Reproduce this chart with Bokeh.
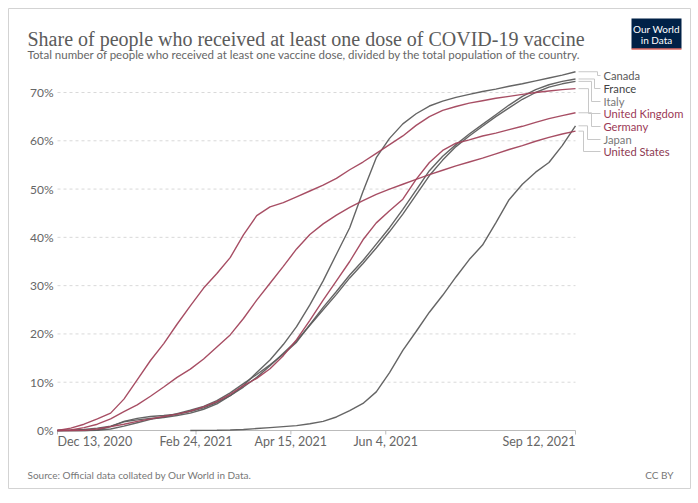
import numpy as np
import pandas as pd
from bokeh.plotting import figure
from bokeh.models import Range1d, ColumnDataSource
from bokeh.core.properties import value
from bokeh.embed import file_html
from bokeh.resources import INLINE

# ---------------- data ----------------
dates = pd.date_range("2020-12-13", "2021-09-12", freq="7D")

canada = [0.0, 0.05, 0.2, 0.5, 0.9, 1.8, 2.2, 2.5, 2.7, 3.1,
          3.6, 4.4, 5.5, 7.2, 9.3, 12.0, 14.6, 17.8, 21.5, 26.0,
          31.0, 36.5, 42.0, 49.5, 56.5, 60.5, 63.5, 65.6, 67.2, 68.2,
          69.0, 69.6, 70.2, 70.7, 71.3, 71.8, 72.4, 73.0, 73.6, 74.3]
france = [0.0, 0.0, 0.0, 0.05, 0.3, 0.9, 1.6, 2.3, 2.8, 3.5,
          4.2, 5.0, 6.2, 7.8, 9.7, 11.6, 13.6, 15.8, 18.3, 21.9,
          25.5, 28.8, 32.2, 35.2, 38.6, 42.0, 45.8, 49.8, 53.8, 56.8,
          59.2, 61.4, 63.4, 65.4, 67.4, 69.2, 70.6, 71.6, 72.3, 72.8]
italy = [0.0, 0.0, 0.0, 0.1, 0.8, 1.9, 2.5, 2.9, 3.1, 3.4,
         3.9, 4.7, 5.8, 7.2, 9.0, 11.0, 13.4, 16.0, 18.6, 21.8,
         25.0, 28.2, 31.6, 34.6, 37.8, 41.2, 44.8, 48.8, 52.8, 56.0,
         58.8, 61.0, 63.0, 65.0, 66.8, 68.6, 70.0, 71.1, 71.8, 72.3]
united_kingdom = [0.0, 0.5, 1.3, 2.4, 3.6, 6.5, 10.5, 14.5, 18.0, 22.0,
                  25.8, 29.5, 32.5, 35.8, 40.5, 44.5, 46.3, 47.2, 48.4, 49.6,
                  50.8, 52.2, 54.0, 55.6, 57.4, 59.2, 61.0, 63.2, 65.0, 66.3,
                  67.1, 67.8, 68.3, 68.8, 69.2, 69.6, 70.0, 70.3, 70.6, 70.8]
germany = [0.0, 0.0, 0.05, 0.3, 0.8, 1.3, 1.9, 2.4, 2.9, 3.4,
           4.0, 4.9, 6.0, 7.5, 9.3, 10.8, 12.8, 15.5, 18.8, 22.8,
           27.0, 31.0, 35.0, 39.5, 43.0, 45.5, 47.9, 52.0, 55.5, 58.0,
           59.5, 60.2, 61.0, 61.6, 62.3, 63.0, 63.8, 64.6, 65.2, 65.8]
japan = [None] * 10 + [0.0, 0.02, 0.05, 0.1, 0.2, 0.4, 0.6, 0.8, 1.0, 1.4,
                       1.9, 2.8, 4.1, 5.6, 8.0, 12.0, 16.6, 20.5, 24.5, 28.0,
                       31.8, 35.4, 38.4, 43.0, 47.8, 51.0, 53.5, 55.5, 59.0, 63.1]
united_states = [0.0, 0.1, 0.6, 1.3, 2.4, 3.9, 5.3, 7.1, 9.0, 11.0,
                 12.7, 14.8, 17.3, 19.8, 23.2, 27.0, 30.5, 34.0, 37.6, 40.6,
                 42.8, 44.6, 46.2, 47.6, 48.9, 50.0, 51.0, 52.0, 53.0, 53.9,
                 54.8, 55.6, 56.4, 57.3, 58.2, 59.0, 59.9, 60.7, 61.4, 62.0]

countries = ["Canada", "France", "Italy", "United Kingdom", "Germany", "Japan", "United States"]
series = [canada, france, italy, united_kingdom, germany, japan, united_states]

y_ticks = [0, 10, 20, 30, 40, 50, 60, 70]
y_tick_labels = ["0%", "10%", "20%", "30%", "40%", "50%", "60%", "70%"]
x_tick_dates = ["2020-12-13", "2021-02-24", "2021-04-15", "2021-06-04", "2021-09-12"]
x_tick_labels = ["Dec 13, 2020", "Feb 24, 2021", "Apr 15, 2021", "Jun 4, 2021", "Sep 12, 2021"]

TITLE = "Share of people who received at least one dose of COVID-19 vaccine"
SUBTITLE = ("Total number of people who received at least one vaccine dose, "
            "divided by the total population of the country.")
SOURCE = "Source: Official data collated by Our World in Data."
LICENSE = "CC BY"
LOGO_LINES = ["Our World", "in Data"]

# ---------------- styling / layout (canvas pixels) ----------------
GRAY = "#5d5d5d"
RED = "#a2445c"
line_colors = [GRAY, GRAY, GRAY, RED, RED, GRAY, RED]
label_colors = ["#5a5a5a", "#444444", "#777777", "#9c3a57", "#9c3a57", "#777777", "#8e3a52"]
FONT = value("Lato")

W, H = 698, 503
PLOT_L, PLOT_R, ZERO_Y, Y70 = 57, 575, 430, 92   # canvas px of data area

x_start = dates[0].value / 1e6
x_end = dates[-1].value / 1e6
ms_per_px = (x_end - x_start) / (PLOT_R - PLOT_L)
px_per_pct = (ZERO_Y - Y70) / 70.0


def xpx(cx):
    return x_start + (cx - PLOT_L) * ms_per_px


def ypx(cy):
    return (ZERO_Y - cy) / px_per_pct


p = figure(width=W, height=H, x_range=Range1d(xpx(0), xpx(W)), y_range=Range1d(ypx(H), ypx(0)),
           x_axis_location=None, y_axis_location=None, output_backend="svg",
           toolbar_location=None, min_border=0, title=None)
p.outline_line_color = None
p.grid.visible = False
p.background_fill_color = "white"
p.border_fill_color = "white"

# card
p.quad(left=[xpx(8)], right=[xpx(690)], top=[ypx(8)], bottom=[ypx(488)],
       fill_color="white", line_color="#d3d3d3", line_width=1)

# grid lines
p.segment(x0=[x_start] * 7, x1=[x_end] * 7, y0=y_ticks[1:], y1=y_ticks[1:],
          line_color="#d9d9d9", line_width=1, line_dash="3 3")
# x axis line and ticks
tick_ms = [pd.Timestamp(d).value / 1e6 for d in x_tick_dates]
p.segment(x0=[x_start], x1=[x_end], y0=[0], y1=[0], line_color="#bbbbbb", line_width=1)
p.segment(x0=tick_ms, x1=tick_ms, y0=[0] * 5, y1=[ypx(ZERO_Y + 4)] * 5,
          line_color="#bbbbbb", line_width=1)

# y tick labels
p.text(x=[xpx(53)] * len(y_ticks), y=y_ticks, text=y_tick_labels, text_align="right",
       text_baseline="middle", text_font=FONT, text_font_size="12px", text_color="#666666")
# x tick labels
aligns = ["left", "center", "center", "center", "right"]
p.text(x=tick_ms, y=[ypx(441)] * 5, text=x_tick_labels, text_align=aligns,
       text_baseline="middle", text_font=FONT, text_font_size="12.5px", text_color="#666666")

# country lines
for name, vals, col in zip(countries, series, line_colors):
    arr = np.array([np.nan if v is None else v for v in vals], dtype=float)
    src = ColumnDataSource(dict(x=dates, y=arr))
    p.line("x", "y", source=src, line_color=col, line_width=1.4, line_alpha=0.95)

# legend labels with connectors
label_cy = [75, 88, 101, 113, 126, 139, 151]
vert_cx = [597, 594, 591, 588, 591, 587, 583]
x0s, y0s, x1s, y1s = [], [], [], []
for vals, ly, vx in zip(series, label_cy, vert_cx):
    yend = vals[-1]
    ylab = ypx(ly)
    for a, b, c, d in [(xpx(PLOT_R + 3), yend, xpx(vx), yend), (xpx(vx), yend, xpx(vx), ylab),
                       (xpx(vx), ylab, xpx(600), ylab)]:
        x0s.append(a); y0s.append(b); x1s.append(c); y1s.append(d)
p.segment(x0=x0s, y0=y0s, x1=x1s, y1=y1s, line_color="#c8c8c8", line_width=1)
p.text(x=[xpx(603)] * 7, y=[ypx(c) for c in label_cy], text=countries, text_align="left",
       text_baseline="middle", text_font=FONT, text_font_size="11.2px", text_color=label_colors)

# title / subtitle / footer
p.text(x=[xpx(27)], y=[ypx(38)], text=[TITLE], text_font=value("Liberation Serif"),
       text_font_size="20px", text_color="#5b5b5b", text_baseline="alphabetic")
p.text(x=[xpx(27)], y=[ypx(54)], text=[SUBTITLE], text_font=FONT,
       text_font_size="11.5px", text_color="#666666", text_baseline="alphabetic")
p.text(x=[xpx(27)], y=[ypx(474)], text=[SOURCE], text_font=FONT,
       text_font_size="10px", text_color="#777777", text_baseline="alphabetic")
p.text(x=[xpx(673)], y=[ypx(474)], text=[LICENSE], text_font=FONT, text_align="right",
       text_font_size="10px", text_color="#777777", text_baseline="alphabetic")

# logo
p.quad(left=[xpx(631)], right=[xpx(681)], top=[ypx(18)], bottom=[ypx(48)],
       fill_color="#002147", line_color=None)
p.segment(x0=[xpx(631)], x1=[xpx(681)], y0=[ypx(48.5)], y1=[ypx(48.5)],
          line_color="#ce261e", line_width=1.5, line_alpha=0.7)
p.text(x=[xpx(656)] * 2, y=[ypx(28), ypx(39)], text=LOGO_LINES, text_align="center",
       text_baseline="middle", text_font=FONT, text_font_size="10px", text_color="white")

open("out.html", "w").write(file_html(p, INLINE))
